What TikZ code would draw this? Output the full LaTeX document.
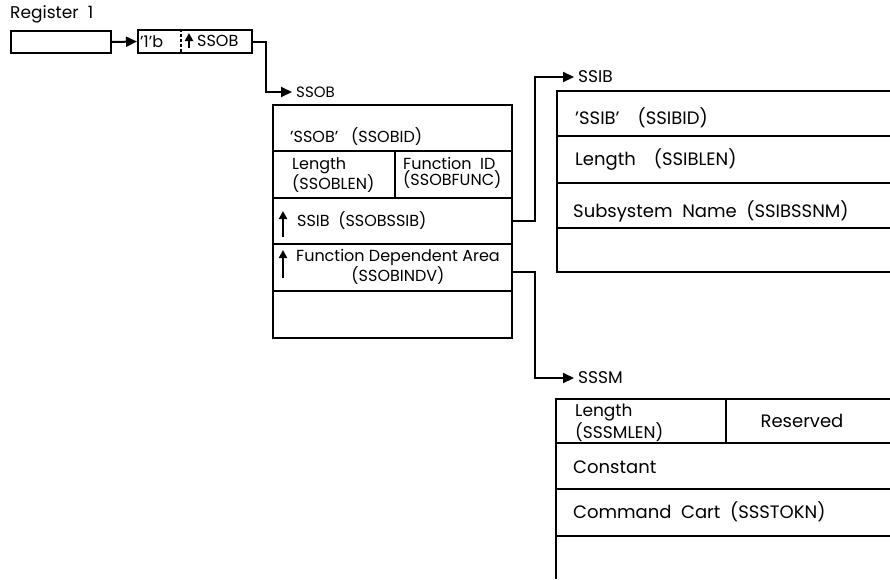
\documentclass[tikz,border=0pt]{standalone}
\usepackage{fontspec}
\setmainfont{Poppins}
\usetikzlibrary{arrows.meta}
\tikzset{
  frame/.style={line width=2pt},
  box/.style={draw, line width=2pt, anchor=north west, inner sep=0pt},
  lbl/.style={anchor=west, inner sep=0pt, font=\fontsize{16}{15}\selectfont},
  biglbl/.style={lbl, font=\fontsize{18}{15}\selectfont},
  link/.style={line width=2pt, -{Triangle[length=11pt,width=10pt]}},
  uptip/.style={line width=2pt, -{Triangle[length=8pt,width=8pt]}},
}
\begin{document}
\begin{tikzpicture}[x=1pt,y=-1pt]
\useasboundingbox (0,0) rectangle (890,579);
% register and pointer word
\node[lbl, font=\fontsize{17}{15}\selectfont] (reglbl) at (10,14) {Register\ \ 1};
\node[box, minimum width=100pt, minimum height=22pt] (reg) at (10,30) {};
\node[box, minimum width=114pt, minimum height=23pt] (ptr) at (137,29) {};
\node[lbl] (flag) at (140,42) {'1'b};
\node[lbl] (ptrlbl) at (197,41) {SSOB};
\draw[line width=1.5pt, dash pattern=on 3pt off 2pt] (181,29) -- (181,52);
\draw[uptip] (189,48) -- (189,33);
\draw[link] (reg.east) -- (ptr.west);
% SSOB
\node[lbl, font=\fontsize{15}{15}\selectfont] (ssoblbl) at (296,92) {SSOB};
\draw[frame] (273,105) rectangle (512,338);
\draw[frame] (273,151) -- (512,151);
\draw[frame] (273,198) -- (512,198);
\draw[frame] (273,244) -- (512,244);
\draw[frame] (273,291) -- (512,291);
\draw[frame] (395,151) -- (395,198);
\node[lbl] (ssobid) at (290,137) {'SSOB'\ \ \ (SSOBID)};
\node[lbl, align=left] (ssoblen) at (292,175) {Length\\(SSOBLEN)};
\node[lbl, align=left] (ssobfunc) at (403,173) {Function\ \ ID\\(SSOBFUNC)};
\node[lbl] (ssibptr) at (297,221) {SSIB\ \ (SSOBSSIB)};
\draw[uptip] (283,237) -- (283,211);
\node[lbl, align=center] (fdaptr) at (296,267) {Function\ Dependent\ Area\\(SSOBINDV)};
\draw[uptip] (283,278) -- (283,250);
\coordinate (fdaout) at (512,272);
\draw[link] (ptr.east) -- ++(13,0) |- ([xshift=-4pt]ssoblbl.west);
% SSIB
\node[lbl, font=\fontsize{17}{15}\selectfont] (ssiblbl) at (578,77) {SSIB};
\draw[frame] (890,91) -- (557,91) -- (557,272) -- (890,272);
\draw[frame] (557,136) -- (890,136);
\draw[frame] (557,183) -- (890,183);
\draw[frame] (557,228) -- (890,228);
\node[biglbl] (ssibid) at (575,118) {'SSIB'\quad (SSIBID)};
\node[biglbl] (ssiblen) at (575,160) {Length\quad (SSIBLEN)};
\node[biglbl] (ssibssnm) at (573,211) {Subsystem\ \ Name\ \ (SSIBSSNM)};
\draw[link] (ssibptr -| 512,0) -- ++(23,0) |- ([xshift=-4pt]ssiblbl.west);
% SSSM
\node[lbl, font=\fontsize{17}{15}\selectfont] (sssmlbl) at (578,378) {SSSM};
\draw[frame] (890,399) -- (556,399) -- (556,579);
\draw[frame] (556,443) -- (890,443);
\draw[frame] (556,489) -- (890,489);
\draw[frame] (556,536) -- (890,536);
\draw[frame] (726,399) -- (726,443);
\node[biglbl, align=left, font=\fontsize{17}{14}\selectfont] (sssmlen) at (575,423) {Length\\(SSSMLEN)};
\node[biglbl, anchor=center] (rsvd) at (802,421) {Reserved};
\node[biglbl] (const) at (573,467) {Constant};
\node[biglbl] (sstokn) at (573,512) {Command\ \ Cart\ \ (SSSTOKN)};
\draw[link] (fdaout) -- ++(23,0) |- ([xshift=-4pt]sssmlbl.west);
\end{tikzpicture}
\end{document}
